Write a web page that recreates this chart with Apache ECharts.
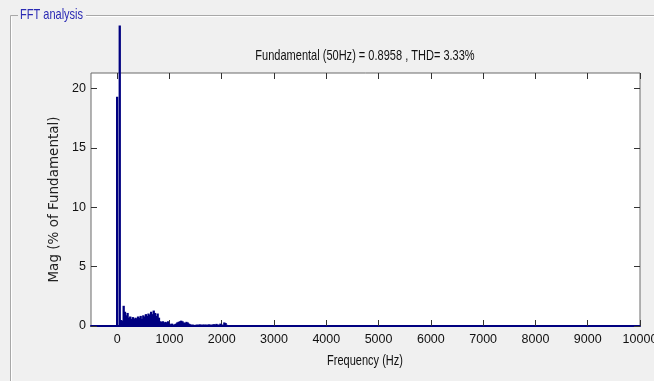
<!DOCTYPE html>
<html>
<head>
<meta charset="utf-8">
<script src="https://cdn.jsdelivr.net/npm/echarts@6/dist/echarts.min.js"></script>
<style>
html,body{margin:0;padding:0;background:#f0f0f0;}
#c{width:654px;height:381px;}
</style>
</head>
<body>
<div id="c"></div>
<script>
const titleText = 'Fundamental (50Hz) = 0.8958 , THD= 3.33%';
const panelTitle = 'FFT analysis';
const xName = 'Frequency (Hz)';
const yName = 'Mag (% of Fundamental)';
const xTicks = [0,1000,2000,3000,4000,5000,6000,7000,8000,9000,10000];
const yTicks = [0,5,10,15,20];
const freqHz = [0,25,50,75,100,125,150,175,200,225,250,275,300,325,350,375,400,425,450,475,
  500,525,550,575,600,625,650,675,700,725,750,775,800,825,850,875,900,925,950,975,
  1000,1025,1050,1075,1100,1125,1150,1175,1200,1225,1250,1275,1300,1325,1350,1375,1400,1425,1450,1475,
  1500,1525,1550,1575,1600,1625,1650,1675,1700,1725,1750,1775,1800,1825,1850,1875,1900,1925,1950,1975,
  2000,2025,2050,2075,2100,2125];
const magPct = [19.3,0,25.3,0.5,0.45,1.7,1.2,0.9,1.1,0.7,0.8,0.6,0.75,0.6,0.7,0.65,0.8,0.7,0.85,0.6,
  0.9,0.8,1.0,0.85,1.05,0.95,1.2,1.0,1.3,1.1,0.85,1.05,0.7,0.4,0.35,0.4,0.3,0.35,0.3,0.4,
  0.2,0.15,0.2,0.1,0.15,0.2,0.3,0.35,0.4,0.45,0.4,0.3,0.25,0.35,0.3,0.2,0.15,0.1,0.12,0.08,
  0.1,0.12,0.1,0.14,0.12,0.1,0.13,0.11,0.12,0.1,0.14,0.12,0.1,0.13,0.15,0.12,0.18,0.12,0.1,0.2,
  0.12,0.1,0.3,0.25,0.1,0.05];

const sans = "'Liberation Sans',Arial,sans-serif";
const chart = echarts.init(document.getElementById('c'));
const tickStyle = {inside:true,length:6,lineStyle:{color:'#333',width:1}};
const plain = v => String(v);
chart.setOption({
  backgroundColor:'#f0f0f0',
  animation:false,
  grid:{left:91,top:73,right:14,bottom:55,outerBoundsMode:'none',containLabel:false,show:true,backgroundColor:'#ffffff',borderColor:'#6a6a6a',borderWidth:1},
  graphic:[
    {type:'line',shape:{x1:10.5,y1:15.5,x2:18,y2:15.5},style:{stroke:'#a8a8a8',lineWidth:1}},
    {type:'line',shape:{x1:86,y1:15.5,x2:654,y2:15.5},style:{stroke:'#a8a8a8',lineWidth:1}},
    {type:'line',shape:{x1:86,y1:16.5,x2:654,y2:16.5},style:{stroke:'#ffffff',lineWidth:1}},
    {type:'line',shape:{x1:10.5,y1:15.5,x2:10.5,y2:381},style:{stroke:'#a8a8a8',lineWidth:1}},
    {type:'line',shape:{x1:11.5,y1:16.5,x2:11.5,y2:381},style:{stroke:'#ffffff',lineWidth:1}},
    {type:'text',x:20,y:15,scaleX:0.76,style:{text:panelTitle,fill:'#2a2ab4',font:"14.5px "+sans,textVerticalAlign:'middle'}},
    {type:'text',x:365,y:56,scaleX:0.76,style:{text:titleText,fill:'#111',font:"14.5px "+sans,textAlign:'center',textVerticalAlign:'middle'}},
    {type:'text',x:365,y:361,scaleX:0.76,style:{text:xName,fill:'#111',font:"14.5px "+sans,textAlign:'center',textVerticalAlign:'middle'}}
  ],
  xAxis:[{
    type:'value',min:-500,max:10000,position:'bottom',
    axisLine:{show:true,onZero:false,lineStyle:{color:'#000080',width:2}},
    axisTick:Object.assign({customValues:xTicks},tickStyle),
    axisLabel:{customValues:xTicks,formatter:plain,color:'#111',fontFamily:sans,fontSize:12.5,margin:7},
    splitLine:{show:false}
  },{
    type:'value',min:-500,max:10000,position:'top',
    axisLine:{show:false,onZero:false},
    axisTick:Object.assign({customValues:xTicks},tickStyle),
    axisLabel:{show:false},splitLine:{show:false}
  }],
  yAxis:[{
    type:'value',min:0,max:21.3,position:'left',
    name:yName,nameLocation:'middle',nameGap:14,
    nameTextStyle:{color:'#222',fontFamily:"'DejaVu Sans',sans-serif",fontSize:13.5},
    axisLine:{show:false,onZero:false},
    axisTick:Object.assign({customValues:yTicks},tickStyle),
    axisLabel:{customValues:yTicks,formatter:plain,color:'#111',fontFamily:sans,fontSize:12.5,margin:5},
    splitLine:{show:false}
  },{
    type:'value',min:0,max:21.3,position:'right',
    axisLine:{show:false,onZero:false},
    axisTick:Object.assign({customValues:yTicks},tickStyle),
    axisLabel:{show:false},splitLine:{show:false}
  }],
  series:[{
    type:'bar',xAxisIndex:0,yAxisIndex:0,
    data:freqHz.map((f,i)=>[f,magPct[i]]),
    barWidth:2.3,clip:false,
    itemStyle:{color:'#000080'},
    emphasis:{disabled:true}
  }]
});
</script>
</body>
</html>
